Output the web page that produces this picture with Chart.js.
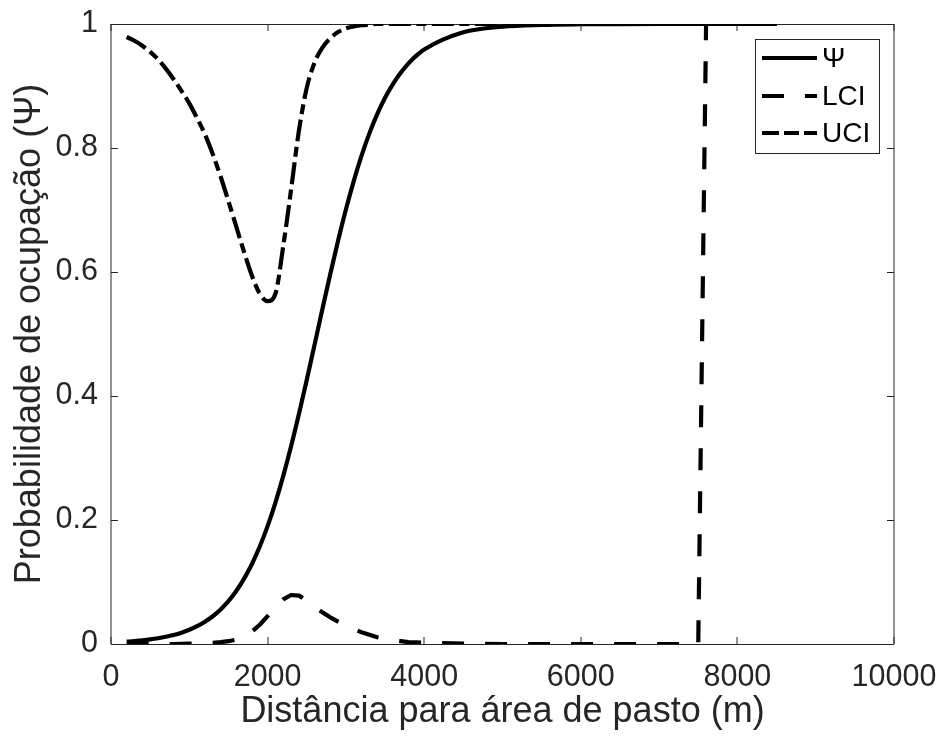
<!DOCTYPE html>
<html>
<head>
<meta charset="utf-8">
<script src="https://cdn.jsdelivr.net/npm/chart.js@4.4.1/dist/chart.umd.min.js"></script>
<style>
html,body{margin:0;padding:0;background:#fff;}
#wrap{width:943px;height:740px;}
</style>
</head>
<body>
<div id="wrap"><canvas id="c" width="943" height="740"></canvas></div>
<script>
// ---- data ----
const distance = [200,300,400,500,600,700,800,900,1000,1100,1200,1300,1400,1500,1600,1700,1800,1900,2000,
  2100,2200,2300,2400,2500,2600,2700,2800,2900,3000,3100,3200,3300,3400,3500,3600,3700,3800,3900,4000,
  4500,5000,5500,6000,6500,7000,7500,7600,8000,8500];
const psi = [0.0037,0.0047,0.0059,0.0074,0.0093,0.0117,0.0146,0.0183,0.0230,0.0288,0.0360,0.0448,0.0558,0.0692,0.0855,0.1054,0.1291,0.1572,0.1901,
  0.2281,0.2712,0.3189,0.3708,0.4258,0.4828,0.5402,0.5965,0.6504,0.7008,0.7467,0.7877,0.8236,0.8546,0.8809,0.9030,0.9214,0.9366,0.9489,0.9589,
  0.9866,0.9957,0.9986,0.9996,0.9999,1.0,1.0,1.0,1.0,1.0];
const lci = [0,0,0,0,0,0,0,0.0003,0.0005,0.0008,0.0012,0.002,0.003,0.0045,0.007,0.012,0.020,0.031,0.045,
  0.060,0.072,0.079,0.078,0.070,0.060,0.051,0.043,0.036,0.030,0.024,0.019,0.015,0.011,0.008,0.006,0.0045,0.003,0.0025,0.002,
  0.0005,0,0,0,0,0,0,1.0,1.0,1.0];
const uci = [0.979,0.973,0.965,0.955,0.943,0.928,0.911,0.892,0.872,0.848,0.822,0.790,0.754,0.714,0.673,0.632,0.594,0.565,0.553,
  0.565,0.642,0.733,0.828,0.897,0.938,0.962,0.977,0.987,0.993,0.996,0.998,0.999,1.0,1.0,1.0,1.0,1.0,1.0,1.0,
  1.0,1.0,1.0,1.0,1.0,1.0,1.0,1.0,1.0,1.0];
const seriesLabels = ['Ψ','LCI','UCI'];
const xTicks = [0,2000,4000,6000,8000,10000];
const yTicks = [0,0.2,0.4,0.6,0.8,1];
const xTitle = 'Distância para área de pasto (m)';
const yTitle = 'Probabilidade de ocupação (Ψ)';

const FONT = '"Liberation Sans", Arial, Helvetica, sans-serif';
const AX = '#262626';

function pts(ys){ return distance.map((x,i)=>({x:x, y:ys[i]})); }
function noPad(s){ s.paddingTop = 0; s.paddingBottom = 0; s.paddingLeft = 0; s.paddingRight = 0; }

const boxPlugin = {
  id: 'matlabBox',
  beforeDatasetsDraw(chart){
    const {ctx, chartArea:a, scales} = chart;
    const x = scales.x, y = scales.y;
    ctx.save();
    ctx.strokeStyle = AX;
    ctx.lineWidth = 1;
    ctx.beginPath();
    ctx.moveTo(a.left, a.top); ctx.lineTo(a.left, a.bottom);
    ctx.moveTo(a.right, a.top); ctx.lineTo(a.right, a.bottom);
    ctx.moveTo(a.left, a.top+0.5); ctx.lineTo(a.right, a.top+0.5);
    ctx.moveTo(a.left, a.bottom+0.5); ctx.lineTo(a.right, a.bottom+0.5);
    const tl = 7;
    x.ticks.forEach(t=>{
      const px = Math.round(x.getPixelForValue(t.value));
      ctx.moveTo(px, a.bottom); ctx.lineTo(px, a.bottom - tl);
      ctx.moveTo(px, a.top); ctx.lineTo(px, a.top + tl);
    });
    y.ticks.forEach(t=>{
      const py = Math.round(y.getPixelForValue(t.value)) + 0.5;
      ctx.moveTo(a.left, py); ctx.lineTo(a.left + tl, py);
      ctx.moveTo(a.right, py); ctx.lineTo(a.right - tl, py);
    });
    ctx.stroke();
    ctx.restore();
  }
};

const legendPlugin = {
  id: 'matlabLegend',
  afterDatasetsDraw(chart){
    const ctx = chart.ctx;
    const bx = 755, by = 39, bw = 124, bh = 114;
    const s0 = 762, s1 = 817, tx = 822;
    const rowY = [58, 96, 133];
    ctx.save();
    ctx.fillStyle = '#fff';
    ctx.fillRect(bx, by, bw, bh);
    ctx.strokeStyle = AX;
    ctx.lineWidth = 1;
    ctx.strokeRect(bx + 0.5, by + 0.5, bw, bh);
    chart.data.datasets.forEach((ds, i)=>{
      ctx.beginPath();
      ctx.setLineDash(ds.legendDash || ds.borderDash || []);
      ctx.lineDashOffset = 0;
      ctx.lineWidth = ds.borderWidth;
      ctx.strokeStyle = ds.borderColor;
      ctx.lineCap = 'butt';
      ctx.moveTo(s0, rowY[i]); ctx.lineTo(s1, rowY[i]);
      ctx.stroke();
      ctx.setLineDash([]);
      ctx.fillStyle = '#000';
      ctx.font = '28px ' + FONT;
      ctx.textAlign = 'left';
      ctx.textBaseline = 'middle';
      ctx.fillText(ds.label, tx, rowY[i] + 1);
    });
    ctx.restore();
  }
};

new Chart(document.getElementById('c'), {
  type: 'line',
  data: {
    datasets: [
      { label: seriesLabels[0], data: pts(psi), borderColor: '#000', borderWidth: 4.2,
        borderDash: [], cubicInterpolationMode: 'monotone', pointRadius: 0, fill: false, order: 3 },
      { label: seriesLabels[1], data: pts(lci), borderColor: '#000', borderWidth: 4.2,
        borderDash: [22, 21], tension: 0, pointRadius: 0, fill: false, order: 2 },
      { label: seriesLabels[2], data: pts(uci), borderColor: '#000', borderWidth: 4.2,
        borderDash: [22, 5.5, 10, 5.5], legendDash: [17, 5, 15, 5], cubicInterpolationMode: 'monotone',
        pointRadius: 0, fill: false, order: 1 }
    ]
  },
  options: {
    responsive: false,
    animation: false,
    devicePixelRatio: 1,
    layout: { padding: { left: 0, top: 24, right: 49, bottom: 0 } },
    plugins: { legend: { display: false }, tooltip: { enabled: false } },
    elements: { line: { borderCapStyle: 'butt', borderJoinStyle: 'round' } },
    scales: {
      x: {
        type: 'linear', min: 0, max: 10000,
        afterBuildTicks: s => { s.ticks = xTicks.map(v=>({value:v})); },
        afterFit: s => { s.height = 96; noPad(s); },
        grid: { display: false, drawTicks: false },
        border: { display: false },
        ticks: { color: AX, font: { family: FONT, size: 30.5 }, padding: 15, maxRotation: 0,
                 callback: v => String(v) },
        title: { display: true, text: xTitle, color: AX, font: { family: FONT, size: 36 },
                 padding: { top: 0, bottom: 6 } }
      },
      y: {
        type: 'linear', min: 0, max: 1,
        afterBuildTicks: s => { s.ticks = yTicks.map(v=>({value:v})); },
        afterFit: s => { s.width = 111; noPad(s); },
        grid: { display: false, drawTicks: false },
        border: { display: false },
        ticks: { color: AX, font: { family: FONT, size: 30.5 }, padding: 13,
                 callback: v => String(v) },
        title: { display: true, text: yTitle, color: AX, font: { family: FONT, size: 36 },
                 padding: { top: 8, bottom: 0 } }
      }
    }
  },
  plugins: [boxPlugin, legendPlugin]
});
</script>
</body>
</html>
